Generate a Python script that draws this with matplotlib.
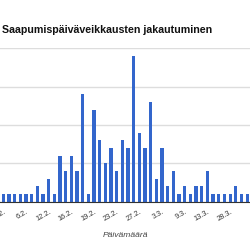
import matplotlib
matplotlib.use("Agg")
import matplotlib.pyplot as plt
import numpy as np

# arrivals guessed per day
counts = [1, 1, 1, 1, 1, 1, 2, 1, 3, 1, 6, 4, 6, 4, 14, 1, 12, 8, 5, 7, 4, 8,
          7, 19, 9, 7, 13, 3, 7, 2, 4, 1, 2, 1, 2, 2, 4, 1, 1, 1, 1, 2, 1, 1]
tick_pos = [0, 4, 8, 12, 16, 20, 24, 28, 32, 36, 40]
tick_labels = ["1.2.", "6.2.", "12.2.", "16.2.", "19.2.", "23.2.",
               "27.2.", "3.3.", "9.3.", "13.3.", "28.3."]

plt.rcParams["font.family"] = ["Liberation Sans", "DejaVu Sans"]

fig = plt.figure(figsize=(2.5, 2.5), dpi=100)
ax = fig.add_axes([0.0, 0.193, 1.0, 0.614])

x = np.arange(len(counts))
ax.bar(x, counts, width=0.58, color="#3366cc", zorder=3)

ax.set_xlim(-0.58, 43.5)
ax.set_ylim(0, 20)
ax.set_yticks([0, 5, 10, 15, 20])
ax.yaxis.grid(True, color="#dddddd", linewidth=1.0, zorder=0)
ax.tick_params(axis="y", left=False, labelleft=False)
ax.tick_params(axis="x", length=0, pad=5)
ax.set_xticks(tick_pos)
ax.set_xticklabels(tick_labels, rotation=30, ha="right", rotation_mode="anchor",
                   fontsize=5.3, color="#333333")

for side in ["top", "left", "right"]:
    ax.spines[side].set_visible(False)
ax.spines["bottom"].set_color("#333333")
ax.spines["bottom"].set_linewidth(0.8)
ax.spines["bottom"].set_zorder(4)

fig.text(0.008, 0.88, "Saapumispäiväveikkausten jakautuminen", fontsize=7.7,
         fontweight="bold", color="#111111", va="center", ha="left")
fig.text(0.502, 0.058, "Päivämäärä", fontsize=6.1, style="italic",
         color="#444444", ha="center", va="center")

fig.savefig("out.png", dpi=100)
